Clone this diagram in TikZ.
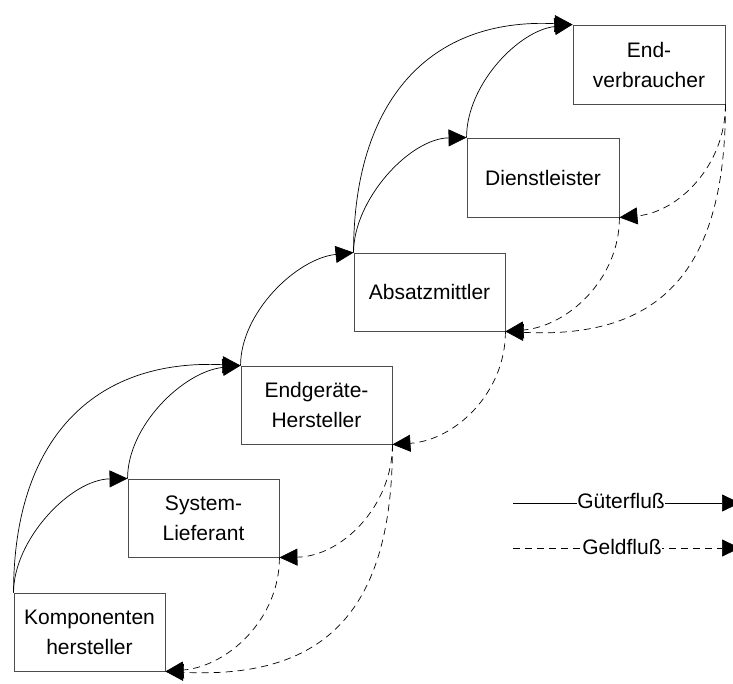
\documentclass[tikz,border=0pt]{standalone}
\usepackage{fontspec}
\setmainfont{Liberation Sans}
\usetikzlibrary{arrows.meta}

\tikzset{
  stage/.style={draw=black!70, line width=0.9pt, fill=white,
    minimum width=151pt, minimum height=78pt, inner sep=0pt,
    align=center, font=\fontsize{21}{30}\selectfont},
  head/.style={-{Triangle[length=18pt,width=17pt]}},
  goods/.style={head, line width=0.7pt, black},
  money/.style={head, line width=0.7pt, black, dash pattern=on 7pt off 5pt},
  legendtext/.style={fill=white, inner xsep=0.5pt, inner ysep=2pt,
    font=\fontsize{21}{25}\selectfont}
}

\begin{document}
\begin{tikzpicture}[x=1pt, y=-1pt]
  \clip (0,0) rectangle (733,684);

  % supply chain stages
  \node[stage] (komp)   at (89.5,632)  {Komponenten\\hersteller};
  \node[stage] (sys)    at (203.5,518) {System-\\Lieferant};
  \node[stage] (endg)   at (316.5,405) {Endgeräte-\\Hersteller};
  \node[stage] (absatz) at (429.5,292) {Absatzmittler};
  \node[stage, minimum width=152pt, minimum height=79pt] (dienst) at (543,177.5) {Dienstleister};
  \node[stage, minimum width=152pt, minimum height=79pt] (endv)   at (649,64.5)  {End-\\verbraucher};

  % flow of goods (top-left corners, upwards)
  \draw[goods] (komp.north west) .. controls +(0,-53) and +(-57,1) .. (sys.north west);
  \draw[goods] (sys.north west) .. controls +(0,-53) and +(-57,6) .. (endg.north west);
  \draw[goods] (komp.north west) .. controls +(0,-152) and +(-148,-7) .. (endg.north west);
  \draw[goods] (endg.north west) .. controls +(0,-53) and +(-57,6) .. (absatz.north west);
  \draw[goods] (absatz.north west) .. controls +(0,-53) and +(-57,1) .. (dienst.north west);
  \draw[goods] (dienst.north west) .. controls +(0,-53) and +(-54,6) .. (endv.north west);
  \draw[goods] (absatz.north west) .. controls +(0,-152) and +(-143,-7) .. (endv.north west);

  % flow of money (bottom-right corners, downwards)
  \draw[money] (endv.south east) .. controls +(0,62) and +(58,-5) .. (dienst.south east);
  \draw[money] (endv.south east) .. controls +(0,163) and +(158,8) .. (absatz.south east);
  \draw[money] (dienst.south east) .. controls +(0,62) and +(62,-5) .. (absatz.south east);
  \draw[money] (absatz.south east) .. controls +(0,62) and +(62,-4) .. (endg.south east);
  \draw[money] (endg.south east) .. controls +(0,62) and +(62,-1) .. (sys.south east);
  \draw[money] (sys.south east) .. controls +(0,62) and +(62,-5) .. (komp.south east);
  \draw[money] (endg.south east) .. controls +(0,163) and +(163,8) .. (komp.south east);

  % legend
  \coordinate (gutL) at (513,503);
  \coordinate (gutR) at (740,503);
  \coordinate (geldL) at (513,548);
  \coordinate (geldR) at (740,548);
  \draw[goods] (gutL) -- (gutR)
    node[legendtext, pos=0.476, yshift=2pt] (gut) {Güterfluß};
  \draw[money] (geldL) -- (geldR)
    node[legendtext, pos=0.48, yshift=1pt] (geld) {Geldfluß};
\end{tikzpicture}
\end{document}
